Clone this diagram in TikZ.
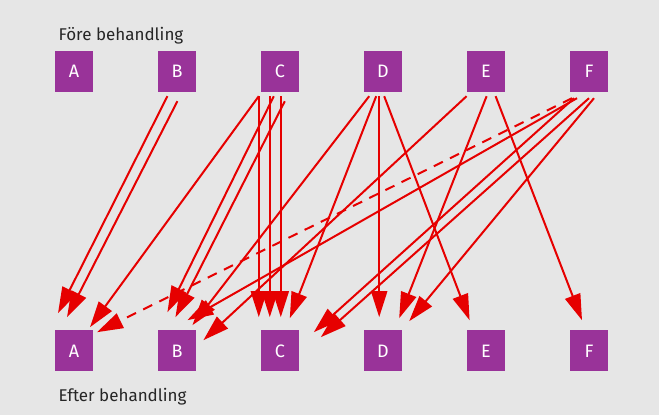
\documentclass[tikz,border=0pt]{standalone}
\usepackage{fontspec}
\setmainfont{Fira Sans}
\usepackage{xcolor}
\usetikzlibrary{arrows.meta, positioning}

\definecolor{bggrey}{HTML}{E6E6E6}
\definecolor{boxpurple}{HTML}{993399}
\definecolor{arrowred}{HTML}{E60000}

\begin{document}
\begin{tikzpicture}[
    x=1pt, y=1pt,
    font=\fontsize{18}{20}\selectfont,
    box/.style={rectangle, minimum width=38pt, minimum height=41pt, inner sep=0pt, text centered, fill=boxpurple, text=white},
    caption/.style={anchor=base west, text=black!85, font=\fontsize{17}{19}\selectfont},
    arrow/.style={line width=2pt, draw=arrowred, -{Triangle[length=26pt, width=16pt]}},
    dasharrow/.style={arrow, dash pattern=on 10pt off 8pt}
]

% background
\fill[bggrey] (0,0) rectangle (659,415);
\useasboundingbox (0,0) rectangle (659,415);

\node (before) [caption] at (55,374) {Före behandling};
\node (after) [caption] at (55,13) {Efter behandling};

% before treatment
\node (fA) [box] at (74,343.5) {A};
\node (fB) [box, right=64.6pt of fA] {B};
\node (fC) [box, right=64.6pt of fB] {C};
\node (fD) [box, right=64.6pt of fC] {D};
\node (fE) [box, right=64.6pt of fD] {E};
\node (fF) [box, right=64.6pt of fE] {F};

% after treatment
\node (eA) [box, below=238pt of fA] {A};
\node (eB) [box, below=238pt of fB] {B};
\node (eC) [box, below=238pt of fC] {C};
\node (eD) [box, below=238pt of fD] {D};
\node (eE) [box, below=238pt of fE] {E};
\node (eF) [box, below=238pt of fF] {F};

% into A
\draw [arrow] ([shift={(-9.6,-4)}]fB.south) -- ([shift={(-16,17)}]eA.north);
\draw [arrow] ([shift={(0.4,-9)}]fB.south) -- ([shift={(-7,13)}]eA.north);
\draw [arrow] ([shift={(-21.2,-4)}]fC.south) -- ([shift={(16,3)}]eA.north);
\draw [dasharrow] ([shift={(-17,-6)}]fF.south) -- ([shift={(23,-2)}]eA.north);

% into B
\draw [arrow] ([shift={(-6.2,-4)}]fC.south) -- ([shift={(-9.6,18)}]eB.north);
\draw [arrow] ([shift={(4.8,-9)}]fC.south) -- ([shift={(-1.6,13)}]eB.north);
\draw [arrow] ([shift={(-12,-6)}]fF.south) -- ([shift={(10.4,10)}]eB.north);
\draw [arrow] ([shift={(-13.8,-4)}]fD.south) -- ([shift={(15.4,5)}]eB.north);
\draw [arrow] ([shift={(-19.4,-4)}]fE.south) -- ([shift={(26.4,-10)}]eB.north);

% into C
\draw [arrow] ([shift={(-21.2,-4)}]fC.south) -- ([shift={(-21.2,13)}]eC.north);
\draw [arrow] ([shift={(-10.2,-4)}]fC.south) -- ([shift={(-10.2,13)}]eC.north);
\draw [arrow] ([shift={(0.8,-4)}]fC.south) -- ([shift={(0.8,13)}]eC.north);
\draw [arrow] ([shift={(-6.8,-4)}]fD.south) -- ([shift={(9.8,12)}]eC.north);
\draw [arrow] ([shift={(-15,-6)}]fF.south) -- ([shift={(33.8,-2)}]eC.north);
\draw [arrow] ([shift={(0,-6)}]fF.south) -- ([shift={(40.8,-7)}]eC.north);

% into D
\draw [arrow] ([shift={(-3.8,-4)}]fD.south) -- ([shift={(-3.8,13)}]eD.north);
\draw [arrow] ([shift={(0.6,-4)}]fE.south) -- ([shift={(16.2,12)}]eD.north);
\draw [arrow] ([shift={(5,-6)}]fF.south) -- ([shift={(26.2,9)}]eD.north);

% into E and F
\draw [arrow] ([shift={(1.2,-4)}]fD.south) -- ([shift={(-16.4,10)}]eE.north);
\draw [arrow] ([shift={(9.6,-4)}]fE.south) -- ([shift={(-7,10)}]eF.north);

\end{tikzpicture}
\end{document}
